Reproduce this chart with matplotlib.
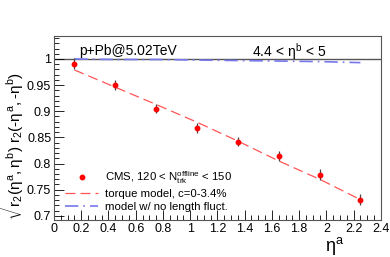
import matplotlib
matplotlib.use("Agg")
import matplotlib.pyplot as plt
import numpy as np
from matplotlib.lines import Line2D
from matplotlib.ticker import MultipleLocator, FuncFormatter

plt.rcParams["font.family"] = ["Liberation Sans", "DejaVu Sans"]
plt.rcParams["mathtext.fontset"] = "custom"
plt.rcParams["mathtext.rm"] = "Liberation Sans"
plt.rcParams["mathtext.it"] = "Liberation Sans"

# ---- data ----
eta_a = [0.15, 0.45, 0.75, 1.05, 1.35, 1.65, 1.95, 2.25]
cms_r2 = [0.991, 0.950, 0.905, 0.868, 0.842, 0.814, 0.779, 0.731]
cms_err = [0.010, 0.009, 0.009, 0.009, 0.009, 0.010, 0.010, 0.010]
torque = [0.979, 0.946, 0.913, 0.879, 0.843, 0.805, 0.770, 0.731]
no_fluct = [1.000, 0.999, 0.999, 0.998, 0.997, 0.996, 0.995, 0.993]

fig = plt.figure(figsize=(3.9, 2.57), dpi=100)
ax = fig.add_axes([0.1385, 0.144, 0.838, 0.716])

ax.axhline(1.0, color="#555555", linewidth=1.0, zorder=1)
l_torque, = ax.plot(eta_a, torque, color="#ff5555", linestyle=(0, (8, 4)), linewidth=0.9)
l_nofl, = ax.plot(eta_a, no_fluct, color="#7777ee", linestyle=(0, (8, 3, 1, 3)), linewidth=1.2)
ax.errorbar(eta_a, cms_r2, yerr=cms_err, fmt="o", color="red", markersize=3.2,
            ecolor="#444444", elinewidth=0.9, capsize=0, zorder=5)

ax.set_xlim(0, 2.4)
ax.set_ylim(0.692, 1.044)
ax.xaxis.set_major_locator(MultipleLocator(0.2))
ax.xaxis.set_minor_locator(MultipleLocator(0.05))
ax.xaxis.set_major_formatter(FuncFormatter(lambda v, p: f"{v:.1f}".rstrip("0").rstrip(".")))
ax.yaxis.set_minor_locator(MultipleLocator(0.01))
ax.set_yticks([0.7, 0.75, 0.8, 0.85, 0.9, 0.95, 1.0])
ax.set_yticklabels(["0.7", "0.75", "0.8", "0.85", "0.9", "0.95", "1"])
ax.tick_params(which="both", direction="in", top=False, right=False, labelsize=9, pad=2)
ax.tick_params(which="major", length=7, width=0.6)
ax.tick_params(which="minor", length=3.5, width=0.6)
for s in ax.spines.values():
    s.set_color("#555555")
    s.set_linewidth(0.8)

ax.text(0.226, 0.917, "p+Pb@5.02TeV", transform=ax.transAxes, ha="center", va="center", fontsize=10)
ax.text(0.72, 0.917, r"4.4 < $\eta^{b}$ < 5", transform=ax.transAxes, ha="center", va="center", fontsize=10)

ax.set_xlabel(r"$\eta^{a}$", fontsize=13)
ax.xaxis.set_label_coords(0.86, -0.08)
ax.set_ylabel(r"$\sqrt{r_2(\eta^a,\eta^b)\ r_2(\text{-}\eta^a,\text{-}\eta^b)}$", fontsize=11)
ax.yaxis.set_label_coords(-0.085, 0.41)

cms_handle = Line2D([], [], marker="o", color="red", linestyle="none", markersize=3.2)
ax.legend([cms_handle, l_torque, l_nofl],
          [r"CMS, 120 < N$_{\rm trk}^{\rm offline}$ < 150", "torque model, c=0-3.4%",
           "model w/ no length fluct."],
          loc="lower left", bbox_to_anchor=(0.01, 0.0), frameon=False, fontsize=8.2,
          handlelength=2.9, labelspacing=0.25, borderpad=0.2, handletextpad=0.6)

fig.savefig("out.png", dpi=100)
